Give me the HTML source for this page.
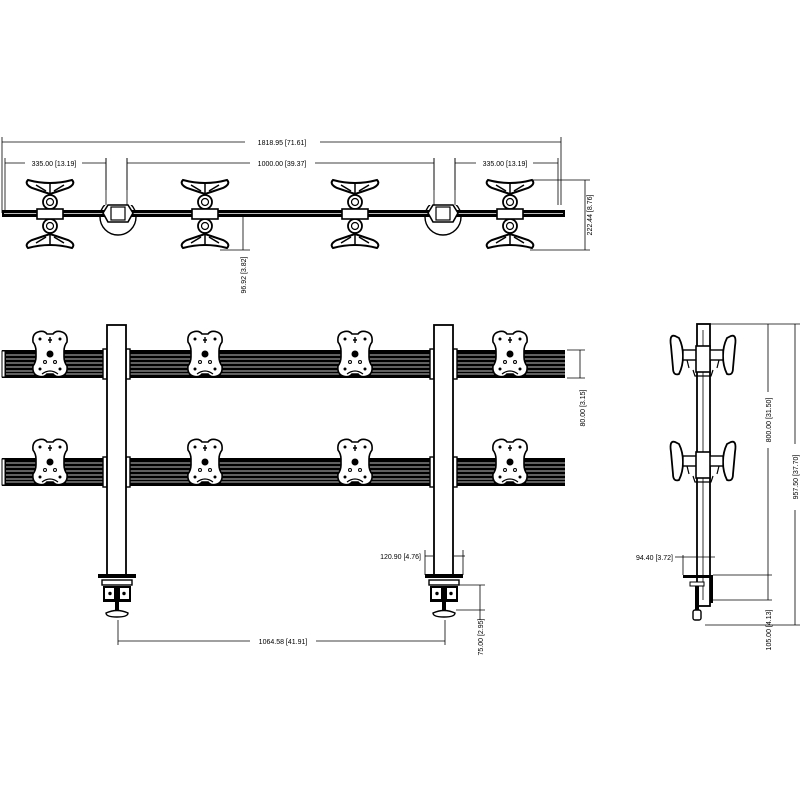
<!DOCTYPE html>
<html><head><meta charset="utf-8"><style>
html,body{margin:0;padding:0;background:#fff;}
svg{display:block}
text{font-family:"Liberation Sans",sans-serif;font-size:7px;fill:#000}
</style></head><body>
<svg width="800" height="800" viewBox="0 0 800 800" xmlns="http://www.w3.org/2000/svg">
<defs>
  <g id="topmount">
    <path d="M-22,-34 Q0,-28 22,-34 Q26,-30 18,-26 L6,-22 L0,-20 L-6,-22 L-18,-26 Q-26,-30 -22,-34Z" fill="#fff" stroke="#000" stroke-width="2"/>
    <path d="M-14,-29 L-4,-23 M14,-29 L4,-23 M0,-30 L0,-21" stroke="#000" stroke-width="1.5"/>
    <circle cx="0" cy="-12" r="7" fill="#fff" stroke="#000" stroke-width="1.8"/>
    <circle cx="0" cy="-12" r="3.5" fill="none" stroke="#000" stroke-width="1.2"/>
    <circle cx="0" cy="12" r="7" fill="#fff" stroke="#000" stroke-width="1.8"/>
    <circle cx="0" cy="12" r="3.5" fill="none" stroke="#000" stroke-width="1.2"/>
    <path d="M-22,34 Q0,28 22,34 Q26,30 18,26 L6,22 L0,20 L-6,22 L-18,26 Q-26,30 -22,34Z" fill="#fff" stroke="#000" stroke-width="2"/>
    <path d="M-14,29 L-4,23 M14,29 L4,23 M0,30 L0,21" stroke="#000" stroke-width="1.5"/>
    <rect x="-13" y="-5" width="26" height="10" fill="#fff" stroke="#000" stroke-width="1.6"/>
  </g>
  <g id="plate">
    <path d="M-12,-22 Q-6,-24 -3,-20 L3,-20 Q6,-24 12,-22 Q18,-20 17,-12 Q14,-8 14,-3 L14,3 Q14,8 17,12 Q18,20 12,22 Q6,24 3,20 L-3,20 Q-6,24 -12,22 Q-18,20 -17,12 Q-14,8 -14,3 L-14,-3 Q-14,-8 -17,-12 Q-18,-20 -12,-22Z" fill="#fff" stroke="#000" stroke-width="1.6"/>
    <circle cx="-10" cy="-15" r="1.5"/><circle cx="10" cy="-15" r="1.5"/>
    <circle cx="-10" cy="15" r="1.5"/><circle cx="10" cy="15" r="1.5"/>
    <circle cx="0" cy="0" r="3.5"/>
    <path d="M0,-17 L0,-11 M-2,-14 L2,-14" stroke="#000" stroke-width="1.4"/>
    <circle cx="-5" cy="8" r="1.5" fill="none" stroke="#000"/><circle cx="5" cy="8" r="1.5" fill="none" stroke="#000"/>
    <path d="M-8,20 Q0,14 8,20" fill="none" stroke="#000" stroke-width="1.2"/>
  </g>
  <g id="bar">
    <rect x="2" y="0" width="563" height="28" fill="#000"/>
    <g stroke="#fff" stroke-width="0.7">
      <line x1="6" y1="5" x2="565" y2="5"/><line x1="6" y1="9" x2="565" y2="9"/>
      <line x1="6" y1="13" x2="565" y2="13"/><line x1="6" y1="17" x2="565" y2="17"/>
      <line x1="6" y1="21" x2="565" y2="21"/><line x1="6" y1="24" x2="565" y2="24"/>
    </g>
    <rect x="2" y="1" width="3" height="26" fill="#fff" stroke="#000" stroke-width="1"/>
  </g>
  <g id="sidemount">
    <path d="M-28,-20 Q-34,-22 -32,-10 L-30,12 Q-30,20 -24,18 Q-20,10 -20,0 Q-20,-10 -24,-18Z" fill="#fff" stroke="#000" stroke-width="1.8"/>
    <path d="M28,-20 Q34,-22 32,-10 L30,12 Q30,20 24,18 Q20,10 20,0 Q20,-10 24,-18Z" fill="#fff" stroke="#000" stroke-width="1.8"/>
    <rect x="-20" y="-6" width="40" height="10" fill="#fff" stroke="#000" stroke-width="1.4"/>
    <rect x="-7" y="-10" width="14" height="26" fill="#fff" stroke="#000" stroke-width="1.6"/>
    <path d="M-16,4 L-14,12 M16,4 L14,12 M-10,14 L-8,20 L8,20 L10,14" fill="none" stroke="#000" stroke-width="1.2"/>
  </g>
  <g id="clamp">
    <rect x="-19" y="0" width="38" height="4" fill="#000"/>
    <rect x="-15" y="6" width="30" height="5" fill="#fff" stroke="#000" stroke-width="1.4"/>
    <rect x="-14" y="12" width="28" height="16" fill="#000"/>
    <rect x="-12" y="14" width="9" height="11" fill="#fff"/><rect x="3" y="14" width="9" height="11" fill="#fff"/>
    <circle cx="-7" cy="19.5" r="1.7"/><circle cx="7" cy="19.5" r="1.7"/>
    <rect x="-2" y="28" width="4" height="8" fill="#000"/>
    <path d="M-11,39 Q0,34 11,39 Q11,43 0,43 Q-11,43 -11,39Z" fill="#fff" stroke="#000" stroke-width="1.4"/>
  </g>
</defs>

<g stroke="#000" stroke-width="0.8" fill="none">
  <line x1="2" y1="142" x2="245" y2="142"/><line x1="320" y1="142" x2="561" y2="142"/>
  <line x1="2" y1="137" x2="2" y2="213"/><line x1="561" y1="137" x2="561" y2="205"/>
  <line x1="5" y1="163" x2="25" y2="163"/><line x1="82" y1="163" x2="106" y2="163"/>
  <line x1="127" y1="163" x2="250" y2="163"/><line x1="315" y1="163" x2="434" y2="163"/>
  <line x1="455" y1="163" x2="476" y2="163"/><line x1="533" y1="163" x2="558" y2="163"/>
  <line x1="5" y1="158" x2="5" y2="213"/><line x1="106" y1="158" x2="106" y2="205"/>
  <line x1="127" y1="158" x2="127" y2="205"/><line x1="434" y1="158" x2="434" y2="205"/>
  <line x1="455" y1="158" x2="455" y2="205"/><line x1="558" y1="158" x2="558" y2="205"/>
  <line x1="530" y1="180" x2="590" y2="180"/><line x1="530" y1="250" x2="590" y2="250"/>
  <line x1="585" y1="180" x2="585" y2="250"/>
  <line x1="220" y1="250" x2="250" y2="250"/><line x1="243" y1="217" x2="243" y2="250"/>
</g>
<text x="282" y="145" text-anchor="middle">1818.95 [71.61]</text>
<text x="54" y="166" text-anchor="middle">335.00 [13.19]</text>
<text x="282" y="166" text-anchor="middle">1000.00 [39.37]</text>
<text x="505" y="166" text-anchor="middle">335.00 [13.19]</text>
<text transform="translate(592,215) rotate(-90)" text-anchor="middle">222.44 [8.76]</text>
<text transform="translate(246,275) rotate(-90)" text-anchor="middle">96.92 [3.82]</text>

<circle cx="118" cy="217" r="18" fill="#fff" stroke="#000" stroke-width="1.4"/>
<circle cx="443" cy="217" r="18" fill="#fff" stroke="#000" stroke-width="1.4"/>
<rect x="102" y="190" width="32" height="15" fill="#fff"/>
<rect x="427" y="190" width="32" height="15" fill="#fff"/>
<line x1="106" y1="158" x2="106" y2="205" stroke="#000" stroke-width="0.8"/>
<line x1="127" y1="158" x2="127" y2="205" stroke="#000" stroke-width="0.8"/>
<line x1="434" y1="158" x2="434" y2="205" stroke="#000" stroke-width="0.8"/>
<line x1="455" y1="158" x2="455" y2="205" stroke="#000" stroke-width="0.8"/>
<rect x="2" y="210" width="563" height="7" fill="#000"/>
<line x1="4" y1="213.5" x2="563" y2="213.5" stroke="#fff" stroke-width="0.8"/>
<path d="M103,213 L108,205 L128,205 L133,213 L128,222 L108,222Z" fill="#fff" stroke="#000" stroke-width="1.6"/>
<rect x="111" y="207" width="14" height="13" fill="#fff" stroke="#000" stroke-width="1.2"/>
<path d="M428,213 L433,205 L453,205 L458,213 L453,222 L433,222Z" fill="#fff" stroke="#000" stroke-width="1.6"/>
<rect x="436" y="207" width="14" height="13" fill="#fff" stroke="#000" stroke-width="1.2"/>
<use href="#topmount" x="50" y="214"/>
<use href="#topmount" x="205" y="214"/>
<use href="#topmount" x="355" y="214"/>
<use href="#topmount" x="510" y="214"/>

<use href="#bar" x="0" y="350"/>
<use href="#bar" x="0" y="458"/>
<g fill="#fff" stroke="#000" stroke-width="1.4">
  <rect x="103" y="349" width="4" height="30"/><rect x="126" y="349" width="4" height="30"/>
  <rect x="103" y="457" width="4" height="30"/><rect x="126" y="457" width="4" height="30"/>
  <rect x="430" y="349" width="4" height="30"/><rect x="453" y="349" width="4" height="30"/>
  <rect x="430" y="457" width="4" height="30"/><rect x="453" y="457" width="4" height="30"/>
  <rect x="107" y="325" width="19" height="252" stroke-width="1.8"/>
  <rect x="434" y="325" width="19" height="252" stroke-width="1.8"/>
</g>
<use href="#plate" x="50" y="354"/><use href="#plate" x="205" y="354"/>
<use href="#plate" x="355" y="354"/><use href="#plate" x="510" y="354"/>
<use href="#plate" x="50" y="462"/><use href="#plate" x="205" y="462"/>
<use href="#plate" x="355" y="462"/><use href="#plate" x="510" y="462"/>
<use href="#clamp" x="117" y="574"/>
<use href="#clamp" x="444" y="574"/>

<g stroke="#000" stroke-width="0.8" fill="none">
  <line x1="567" y1="350" x2="585" y2="350"/><line x1="567" y1="378" x2="585" y2="378"/>
  <line x1="580" y1="350" x2="580" y2="378"/>
  <line x1="118" y1="620" x2="118" y2="645"/><line x1="445" y1="620" x2="445" y2="645"/>
  <line x1="118" y1="641" x2="250" y2="641"/><line x1="316" y1="641" x2="445" y2="641"/>
  <line x1="425" y1="556" x2="433" y2="556"/><line x1="425" y1="550" x2="425" y2="575"/>
  <line x1="463" y1="550" x2="463" y2="575"/><line x1="454" y1="556" x2="465" y2="556"/>
  <line x1="456" y1="585" x2="485" y2="585"/><line x1="456" y1="610" x2="485" y2="610"/>
  <line x1="480" y1="585" x2="480" y2="620"/>
</g>
<text transform="translate(585,408) rotate(-90)" text-anchor="middle">80.00 [3.15]</text>
<text x="283" y="644" text-anchor="middle">1064.58 [41.91]</text>
<text x="421" y="559" text-anchor="end">120.90 [4.76]</text>
<text transform="translate(483,637) rotate(-90)" text-anchor="middle">75.00 [2.95]</text>

<rect x="697" y="324" width="13" height="282" fill="#fff" stroke="#000" stroke-width="1.8"/>
<line x1="703" y1="330" x2="703" y2="600" stroke="#000" stroke-width="0.8"/>
<use href="#sidemount" x="703" y="356"/>
<use href="#sidemount" x="703" y="462"/>
<rect x="683" y="575" width="30" height="3" fill="#000"/>
<rect x="710" y="575" width="3" height="28" fill="#000"/>
<rect x="690" y="582" width="14" height="4" fill="#fff" stroke="#000"/>
<rect x="695" y="586" width="4" height="25" fill="#000"/>
<rect x="693" y="610" width="8" height="10" rx="2" fill="#fff" stroke="#000" stroke-width="1.4"/>
<g stroke="#000" stroke-width="0.8" fill="none">
  <line x1="710" y1="324" x2="800" y2="324"/>
  <line x1="768" y1="324" x2="768" y2="392"/><line x1="768" y1="448" x2="768" y2="575"/>
  <line x1="795" y1="324" x2="795" y2="444"/><line x1="795" y1="510" x2="795" y2="625"/>
  <line x1="713" y1="575" x2="772" y2="575"/><line x1="713" y1="600" x2="772" y2="600"/>
  <line x1="705" y1="625" x2="800" y2="625"/><line x1="768" y1="575" x2="768" y2="600"/>
  <line x1="683" y1="555" x2="683" y2="575"/><line x1="710" y1="555" x2="710" y2="575"/>
  <line x1="675" y1="557" x2="715" y2="557"/>
</g>
<text transform="translate(771,420) rotate(-90)" text-anchor="middle">800.00 [31.50]</text>
<text transform="translate(798,477) rotate(-90)" text-anchor="middle">957.50 [37.70]</text>
<text transform="translate(771,630) rotate(-90)" text-anchor="middle">105.00 [4.13]</text>
<text x="673" y="560" text-anchor="end">94.40 [3.72]</text>
</svg>
</body></html>
